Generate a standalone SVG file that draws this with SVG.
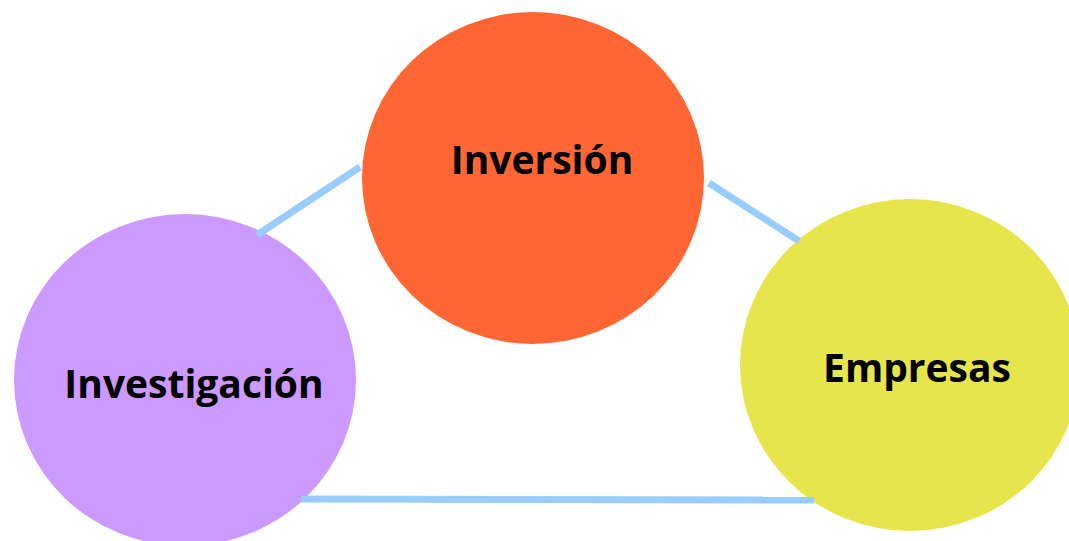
<svg xmlns="http://www.w3.org/2000/svg" width="1069" height="541" viewBox="0 0 1069 541">
<style>
.lbl{font-family:"Open Sans","DejaVu Sans",sans-serif;font-weight:bold;font-size:39px;fill:#000;text-anchor:middle}
.con{stroke:#99CCFF;stroke-width:7;fill:none}
</style>
<rect width="1069" height="541" fill="#fff"/>
<g id="inversion">
<ellipse cx="533" cy="178" rx="171" ry="166" fill="#FF6633"/>
<text class="lbl" x="542" y="174">Inversión</text>
</g>
<g id="investigacion">
<ellipse cx="185" cy="380" rx="171" ry="166" fill="#CC99FF"/>
<text class="lbl" x="194" y="398">Investigación</text>
</g>
<g id="empresas">
<ellipse cx="910" cy="365" rx="170" ry="166" fill="#E6E64C"/>
<text class="lbl" x="917" y="382">Empresas</text>
</g>
<g id="connectors">
<line class="con" x1="257" y1="235" x2="360" y2="167"/>
<line class="con" x1="709" y1="183" x2="799" y2="241"/>
<line class="con" x1="301" y1="499" x2="814" y2="500"/>
</g>
</svg>
